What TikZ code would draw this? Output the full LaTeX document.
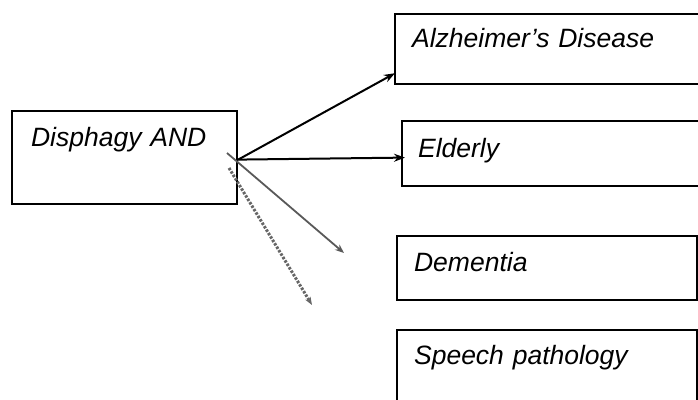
\documentclass[tikz,border=0pt]{standalone}
\usepackage{fontspec}
\setmainfont{Liberation Sans}
\usetikzlibrary{arrows.meta,calc}

\begin{document}
\begin{tikzpicture}[x=1pt,y=-1pt,
  topic/.style={draw, line width=2.2pt, anchor=north west, align=left,
    inner ysep=0pt, font=\itshape\fontsize{26.5}{31}\selectfont}]
  \useasboundingbox (0,0) rectangle (698,399);
  % search terms
  \node[topic, inner xsep=19pt, text width=187pt, text height=35pt, text depth=58pt]
    (dis) at (11,110) {Disphagy AND};
  \node[topic, inner xsep=17pt, text width=330pt, text height=33pt, text depth=37pt]
    (alz) at (394,13) {Alzheimer's Disease};
  \node[topic, inner xsep=16pt, text width=330pt, text height=36pt, text depth=29pt]
    (eld) at (401,120) {Elderly};
  \node[topic, inner xsep=17pt, text width=266pt, text height=35pt, text depth=29pt]
    (dem) at (396,235) {Dementia};
  \node[topic, inner xsep=17pt, text width=266pt, text height=34pt, text depth=80pt]
    (spe) at (396,329) {Speech pathology};
  \coordinate (hub) at ($(dis.east)+(0,2)$);
  \coordinate (hubup) at (227,153);
  \coordinate (hubdown) at (229,168);
  \coordinate (demend) at (344,253);
  \coordinate (speend) at (312,305);
  \path[-{Stealth[length=11pt,width=8pt]}, line width=2pt]
    (hub) edge ($(alz.south west)+(1,-12)$)
          edge ($(eld.west)+(4,4)$);
  \draw[-{Stealth[length=9pt,width=7pt]}, line width=1.8pt, gray!70!black]
    (hubup) -- (demend);
  \draw[-{Stealth[length=8pt,width=6pt]}, line width=3pt, gray!80!black,
    dash pattern=on 2.5pt off 1.5pt]
    (hubdown) -- (speend);
\end{tikzpicture}
\end{document}
